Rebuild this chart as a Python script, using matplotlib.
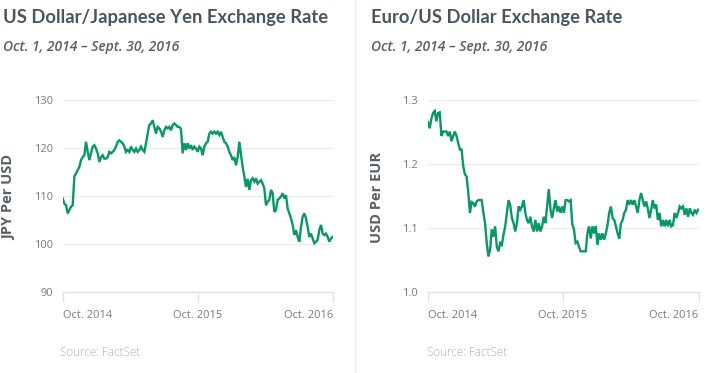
import matplotlib
matplotlib.use("Agg")
import matplotlib.pyplot as plt
import matplotlib.dates as mdates
import pandas as pd
from matplotlib.lines import Line2D

# ---------------- data ----------------
start_date = "2014-10-01"
end_date = "2016-09-30"

usd_jpy = [
    109.4, 108.3, 108.0, 106.3, 107.0, 107.7, 108.0, 114.0, 114.6, 115.3,
    116.0, 117.4, 118.0, 118.4, 121.2, 119.1, 117.4, 118.8, 120.2, 120.5,
    119.8, 118.8, 117.0, 118.0, 118.4, 117.7, 117.7, 118.0, 119.1, 118.8,
    119.1, 119.5, 120.2, 121.2, 121.5, 121.2, 120.9, 120.2, 119.1, 119.5,
    119.1, 120.2, 119.5, 119.1, 119.8, 119.1, 119.5, 120.2, 119.5, 119.1,
    120.9, 122.9, 124.7, 125.0, 125.7, 124.3, 122.9, 124.3, 124.0, 123.3,
    122.2, 123.6, 124.3, 124.0, 124.3, 123.6, 124.7, 125.0, 124.7, 124.3,
    124.3, 123.8, 118.8, 120.9, 119.5, 120.9, 119.8, 120.5, 119.5, 120.2,
    119.8, 119.1, 120.2, 119.8, 118.4, 120.2, 120.9, 121.2, 122.9, 123.3,
    122.9, 123.3, 122.9, 123.3, 122.6, 123.3, 122.2, 121.2, 120.9, 120.2,
    119.1, 118.4, 117.4, 118.0, 116.3, 118.0, 121.2, 118.5, 116.0, 114.0,
    111.8, 113.5, 111.2, 113.2, 113.6, 112.9, 113.6, 112.5, 112.9, 113.2,
    112.5, 111.5, 108.0, 108.7, 109.1, 111.2, 110.5, 106.6, 107.0, 109.1,
    109.4, 109.8, 110.5, 109.4, 110.1, 107.3, 106.3, 105.3, 103.9, 101.8,
    102.8, 101.4, 100.4, 103.5, 105.6, 106.3, 105.3, 103.5, 101.4, 102.1,
    101.1, 100.1, 100.4, 100.8, 102.8, 103.9, 102.1, 101.8, 102.1, 101.4,
    100.4, 101.1, 101.4,
]

eur_usd = [
    1.265, 1.255, 1.270, 1.279, 1.282, 1.266, 1.279, 1.280, 1.243, 1.250,
    1.250, 1.250, 1.243, 1.250, 1.235, 1.243, 1.250, 1.243, 1.232, 1.222,
    1.222, 1.196, 1.183, 1.180, 1.155, 1.123, 1.140, 1.138, 1.133, 1.141,
    1.143, 1.143, 1.143, 1.123, 1.107, 1.076, 1.055, 1.065, 1.097, 1.086,
    1.102, 1.070, 1.063, 1.076, 1.073, 1.089, 1.102, 1.123, 1.143, 1.135,
    1.115, 1.107, 1.094, 1.107, 1.133, 1.128, 1.133, 1.143, 1.123, 1.112,
    1.107, 1.117, 1.102, 1.094, 1.112, 1.094, 1.107, 1.094, 1.102, 1.117,
    1.107, 1.133, 1.160, 1.128, 1.115, 1.130, 1.143, 1.125, 1.133, 1.123,
    1.133, 1.123, 1.143, 1.143, 1.141, 1.143, 1.105, 1.097, 1.076, 1.078,
    1.070, 1.063, 1.063, 1.063, 1.063, 1.091, 1.102, 1.083, 1.102, 1.091,
    1.102, 1.073, 1.091, 1.081, 1.091, 1.081, 1.091, 1.104, 1.123, 1.133,
    1.115, 1.112, 1.102, 1.091, 1.083, 1.107, 1.112, 1.123, 1.128, 1.143,
    1.136, 1.143, 1.136, 1.143, 1.133, 1.123, 1.143, 1.154, 1.143, 1.133,
    1.141, 1.130, 1.115, 1.128, 1.143, 1.130, 1.136, 1.112, 1.123, 1.102,
    1.112, 1.102, 1.112, 1.102, 1.112, 1.102, 1.104, 1.123, 1.115, 1.123,
    1.133, 1.130, 1.133, 1.120, 1.130, 1.117, 1.130, 1.123, 1.120, 1.128,
    1.123, 1.128,
]

x_ticks = ["2014-10-01", "2015-10-01", "2016-10-01"]
x_tick_labels = ["Oct. 2014", "Oct. 2015", "Oct. 2016"]

jpy_yticks = [90, 100, 110, 120, 130]
eur_yticks = [1.0, 1.1, 1.2, 1.3]

titles = ["US Dollar/Japanese Yen Exchange Rate", "Euro/US Dollar Exchange Rate"]
subtitle = "Oct. 1, 2014 \u2013 Sept. 30, 2016"
ylabels = ["JPY Per USD", "USD Per EUR"]
source = "Source: FactSet"

# ---------------- style ----------------
W, H = 708, 373
DPI = 100
LINE = "#0a9766"
TITLE_C = "#4b5560"
SUB_C = "#585f66"
TICK_C = "#7a7a7a"
GRID_C = "#ececec"

fig = plt.figure(figsize=(W / DPI, H / DPI), dpi=DPI)
fig.patch.set_facecolor("white")


def px(x, y):
    return x / W, 1 - y / H


def make_panel(rect, values, ylim, yticks, yfmt, ylabel, title, lab_x, title_x, src_x):
    ax = fig.add_axes(rect)
    dates = pd.date_range(start_date, end_date, periods=len(values))
    ax.plot(dates, values, color=LINE, lw=1.7, solid_joinstyle="miter")
    ax.set_ylim(*ylim)
    ax.set_xlim(pd.Timestamp(x_ticks[0]), pd.Timestamp(x_ticks[-1]))
    ax.set_yticks(yticks)
    ax.set_yticklabels([yfmt.format(v) for v in yticks])
    ax.grid(axis="y", color=GRID_C, lw=1)
    ax.set_axisbelow(True)
    for s in ["top", "right", "left"]:
        ax.spines[s].set_visible(False)
    ax.spines["bottom"].set_color("#e2e2e2")
    ax.spines["bottom"].set_linewidth(1)
    ax.tick_params(axis="y", length=0, labelsize=8, labelcolor=TICK_C, pad=7)
    ax.tick_params(axis="x", length=7, width=1, color="#e2e2e2", labelsize=8,
                   labelcolor=TICK_C, pad=6)
    ax.set_xticks([pd.Timestamp(t) for t in x_ticks])
    ax.set_xticklabels(x_tick_labels)
    labs = ax.get_xticklabels()
    labs[0].set_ha("left")
    labs[-1].set_ha("right")
    for lab in ax.get_xticklabels() + ax.get_yticklabels():
        lab.set_family("Open Sans")
    x, y = px(lab_x, 197)
    fig.text(x, y, ylabel, rotation=90, ha="center", va="center",
             fontsize=10.5, fontweight="bold", color=SUB_C, family="Open Sans")
    x, y = px(title_x, 18)
    fig.text(x, y, title, ha="left", va="center", fontsize=13.2, fontweight="bold",
             color=TITLE_C, family="Lato")
    x, y = px(title_x, 47)
    fig.text(x, y, subtitle, ha="left", va="center", fontsize=10,
             style="italic", fontweight="semibold", color=SUB_C, family="Open Sans")
    x, y = px(src_x, 353)
    fig.text(x, y, source, ha="left", va="center", fontsize=8.5,
             color="#b0b0b0", family="Open Sans", fontweight="light")
    return ax


bottom = 1 - 291.7 / H
top = 1 - 99.5 / H
make_panel([62.7 / W, bottom, (333 - 62.7) / W, top - bottom], usd_jpy,
           (90, 130), jpy_yticks, "{:d}", ylabels[0], titles[0], 9, 3, 60)
make_panel([428 / W, bottom, (698.5 - 428) / W, top - bottom], eur_usd,
           (1.0, 1.3), eur_yticks, "{:.1f}", ylabels[1], titles[1], 377, 371, 427)

fig.add_artist(Line2D([354.5 / W, 354.5 / W], [0, 1], color="#eeeeee", lw=1,
                      transform=fig.transFigure))

fig.savefig("out.png", dpi=DPI)
